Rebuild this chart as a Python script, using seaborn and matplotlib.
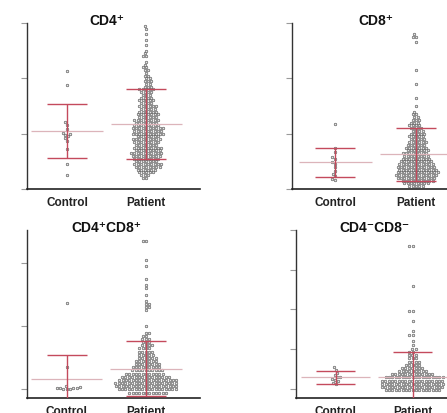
import warnings
warnings.filterwarnings("ignore")
import numpy as np
import pandas as pd
import seaborn as sns
import matplotlib
matplotlib.use("Agg")
import matplotlib.pyplot as plt
import matplotlib.transforms as mtransforms

# ---------------- data ----------------
groups = ["Control", "Patient"]
titles = ["CD4\u207a", "CD8\u207a", "CD4\u207aCD8\u207a", "CD4\u207bCD8\u207b"]

# CD4+
cd4_control = [2.14, 1.88, 1.21, 1.16, 1.08, 1.01, 1.00, 0.98, 0.95, 0.92, 0.87, 0.72, 0.45, 0.25]
cd4_patient_levels = [0.20, 0.25, 0.30, 0.35, 0.40, 0.45, 0.50, 0.55, 0.60, 0.65, 0.70, 0.75, 0.80,
                      0.85, 0.90, 0.95, 1.00, 1.05, 1.10, 1.15, 1.20, 1.25, 1.30, 1.35, 1.40, 1.45,
                      1.50, 1.55, 1.60, 1.65, 1.70, 1.75, 1.80, 1.85, 1.90, 1.95, 2.00, 2.05, 2.10,
                      2.15, 2.20, 2.25, 2.30, 2.40, 2.45, 2.50, 2.60, 2.70, 2.80, 2.90, 2.95]
cd4_patient_counts = [2, 3, 5, 6, 8, 9, 7, 8, 9, 10, 8, 9, 7,
                      8, 9, 7, 10, 9, 10, 8, 7, 8, 6, 7, 6, 5,
                      6, 4, 5, 4, 3, 4, 5, 3, 2, 3, 2, 2, 1,
                      2, 2, 1, 1, 2, 1, 1, 1, 1, 1, 1, 1]
cd4_means = [1.05, 1.17]
cd4_sds = [0.485, 0.63]

# CD8+
cd8_control = [1.18, 0.74, 0.66, 0.57, 0.54, 0.48, 0.45, 0.39, 0.33, 0.27, 0.23, 0.18, 0.17]
cd8_patient_levels = [0.05, 0.10, 0.15, 0.20, 0.25, 0.30, 0.35, 0.40, 0.45, 0.50, 0.55, 0.60, 0.65,
                      0.70, 0.75, 0.80, 0.85, 0.90, 0.95, 1.00, 1.05, 1.10, 1.15, 1.20, 1.25, 1.30,
                      1.35, 1.40, 1.50, 1.65, 1.90, 2.15, 2.65, 2.75, 2.80]
cd8_patient_counts = [5, 8, 10, 12, 13, 13, 12, 12, 11, 10, 9, 8, 8,
                      7, 7, 6, 6, 5, 5, 5, 4, 4, 4, 3, 3, 2,
                      2, 1, 1, 1, 1, 1, 1, 2, 1]
cd8_means = [0.48, 0.63]
cd8_sds = [0.26, 0.48]

# CD4+CD8+
dp_control = [1.37, 0.35, 0.05, 0.04, 0.03, 0.03, 0.02, 0.02, 0.01, 0.01, 0.00]
dp_patient_levels = [-0.05, 0.00, 0.05, 0.10, 0.15, 0.20, 0.25, 0.30, 0.35, 0.40, 0.45, 0.50, 0.55,
                     0.60, 0.65, 0.70, 0.75, 0.80, 0.85, 0.90, 1.00, 1.25, 1.30, 1.35, 1.40, 1.50,
                     1.60, 1.65, 1.75, 1.95, 2.05, 2.35]
dp_patient_counts = [12, 18, 19, 19, 18, 15, 12, 10, 9, 8, 7, 6, 5,
                     5, 4, 4, 3, 3, 2, 2, 1, 1, 2, 2, 1, 1,
                     1, 1, 1, 1, 1, 2]
dp_means = [0.17, 0.33]
dp_sds = [0.37, 0.44]

# CD4-CD8-
dn_control = [0.55, 0.48, 0.40, 0.34, 0.30, 0.28, 0.25, 0.22, 0.18, 0.15, 0.12]
dn_patient_levels = [-0.04, 0.04, 0.12, 0.20, 0.28, 0.36, 0.44, 0.52, 0.60, 0.68, 0.76, 0.84,
                     0.92, 1.00, 1.10, 1.20, 1.35, 1.45, 1.70, 1.95, 2.60, 3.60]
dn_patient_counts = [17, 19, 19, 19, 18, 13, 9, 7, 5, 4, 3, 3,
                     2, 2, 1, 1, 2, 1, 1, 2, 1, 2]
dn_means = [0.28, 0.29]
dn_sds = [0.16, 0.64]

# ---------------- styling / layout ----------------
W, H = 447, 414
fig = plt.figure(figsize=(W / 100, H / 100), dpi=100)
fig.patch.set_facecolor("white")

FONT = ["Liberation Sans", "DejaVu Sans"]
DOT_FACE = "#e4e4e4"
DOT_EDGE = "#555555"
RED = "#c44a5c"
MEANC = "#dcb4ba"

panels = [
    dict(ctrl=cd4_control, lv=cd4_patient_levels, ct=cd4_patient_counts, means=cd4_means, sds=cd4_sds,
         px=(27, 24, 200, 190), xlim=(-0.506, 1.68), ylim=(0, 3), yticks=[0, 1, 2, 3]),
    dict(ctrl=cd8_control, lv=cd8_patient_levels, ct=cd8_patient_counts, means=cd8_means, sds=cd8_sds,
         px=(291.5, 24, 471, 190), xlim=(-0.54, 1.68), ylim=(0, 3), yticks=[0, 1, 2, 3]),
    dict(ctrl=dp_control, lv=dp_patient_levels, ct=dp_patient_counts, means=dp_means, sds=dp_sds,
         px=(27, 231, 200, 398.7), xlim=(-0.5, 1.68), ylim=(-0.13, 2.52), yticks=[0, 1, 2]),
    dict(ctrl=dn_control, lv=dn_patient_levels, ct=dn_patient_counts, means=dn_means, sds=dn_sds,
         px=(295.7, 231, 471, 398.7), xlim=(-0.52, 1.76), ylim=(-0.23, 4.0), yticks=[0, 1, 2, 3, 4]),
]

for title, p in zip(titles, panels):
    x0, y0, x1, y1 = p["px"]
    ax = fig.add_axes([x0 / W, 1 - y1 / H, (x1 - x0) / W, (y1 - y0) / H])
    patient = np.repeat(p["lv"], p["ct"])
    df = pd.DataFrame({
        "group": ["Control"] * len(p["ctrl"]) + ["Patient"] * len(patient),
        "value": list(p["ctrl"]) + list(patient),
    })
    ax.set_xlim(*p["xlim"])
    ax.set_ylim(*p["ylim"])
    sns.swarmplot(data=df, x="group", y="value", order=groups, ax=ax, size=1.85,
                  color=DOT_FACE, edgecolor=DOT_EDGE, linewidth=0.45, warn_thresh=1, zorder=2)
    ax.set_xlim(*p["xlim"])
    ax.set_ylim(*p["ylim"])
    for i, (m, s) in enumerate(zip(p["means"], p["sds"])):
        ax.hlines(m, i - 0.45, i + 0.45, color=MEANC, lw=0.9, zorder=3)
        ax.vlines(i, m - s, m + s, color=RED, lw=1.0, zorder=4)
        ax.hlines([m - s, m + s], i - 0.25, i + 0.25, color=RED, lw=1.0, zorder=4)

    ax.set_xlabel("")
    ax.set_ylabel("")
    ax.set_yticks(p["yticks"])
    ax.set_yticklabels([])
    ax.tick_params(axis="y", length=4, width=0.8, color="#9a9a9a")
    ax.tick_params(axis="x", length=0, pad=5)
    for lab in ax.get_xticklabels():
        lab.set_fontfamily(FONT)
        lab.set_fontweight("bold")
        lab.set_fontsize(8.5)
        lab.set_color("#222222")
    for side in ["top", "right"]:
        ax.spines[side].set_visible(False)
    ax.spines["left"].set_color("#333333")
    ax.spines["left"].set_linewidth(1.0)
    ax.spines["bottom"].set_color("#222222")
    ax.spines["bottom"].set_linewidth(1.2)
    ax.set_facecolor("white")

    trans = mtransforms.blended_transform_factory(ax.transData, ax.transAxes)
    ax.text(0.5, 0.995, title, transform=trans, ha="center", va="baseline",
            fontsize=10, fontweight="bold", family=FONT, color="#111111")

fig.savefig("out.png", dpi=100, facecolor="white")
